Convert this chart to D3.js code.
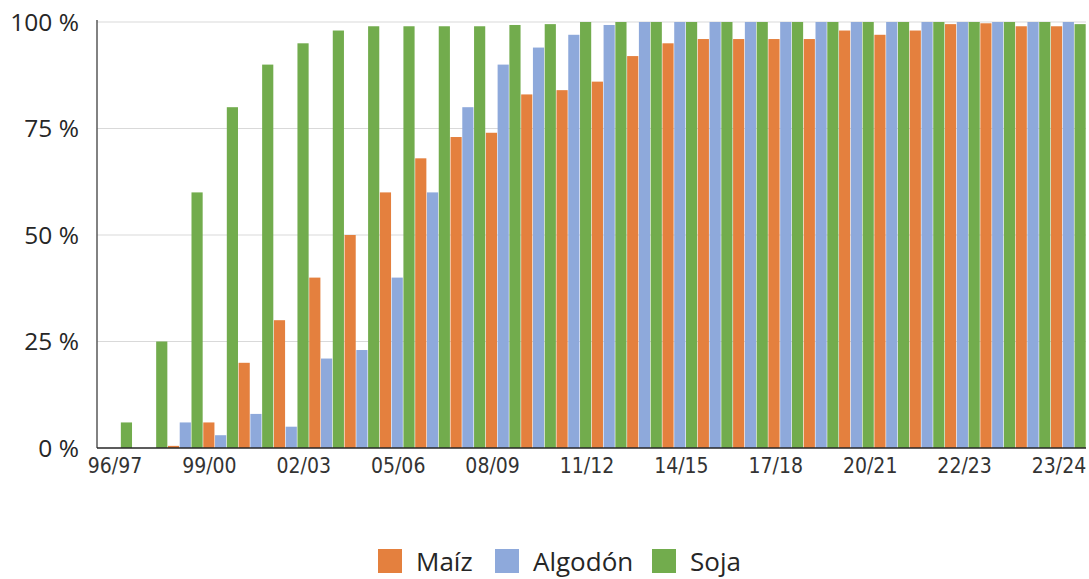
<!DOCTYPE html>
<html>
<head>
<meta charset="utf-8">
<script src="https://cdnjs.cloudflare.com/ajax/libs/d3/7.8.5/d3.min.js"></script>
<style>
  body { margin: 0; background: #fff; }
  svg { display: block; }
  .ylab { font-family: 'Open Sans', sans-serif; font-size: 24.5px; fill: #262626; }
  .xlab { font-family: 'Liberation Sans Narrow', 'DejaVu Sans Condensed', sans-serif; font-size: 21px; fill: #333; }
  .leg { font-family: 'Open Sans', sans-serif; font-size: 26px; fill: #262626; }
</style>
</head>
<body>
<svg id="chart" width="1089" height="579"></svg>
<script>

// seasons 96/97 .. 23/24
const seasons = ["96/97","97/98","98/99","99/00","00/01","01/02","02/03","03/04","04/05","05/06",
                 "06/07","07/08","08/09","09/10","10/11","11/12","12/13","13/14","14/15","15/16",
                 "16/17","17/18","18/19","19/20","20/21","21/22","22/23","23/24"];

const maiz    = [0, 0, 0.5, 6, 20, 30, 40, 50, 60, 68, 73, 74, 83, 84, 86, 92, 95, 96, 96, 96,
                 96, 98, 97, 98, 99.5, 99.7, 99, 99];
const algodon = [0, 0, 6, 3, 8, 5, 21, 23, 40, 60, 80, 90, 94, 97, 99.3, 100, 100, 100, 100, 100,
                 100, 100, 100, 100, 100, 100, 100, 100];
const soja    = [6, 25, 60, 80, 90, 95, 98, 99, 99, 99, 99, 99.3, 99.5, 100, 100, 100, 100, 100, 100, 100,
                 100, 100, 100, 100, 100, 100, 100, 99.5];

const seriesNames  = ["Maíz", "Algodón", "Soja"];
const seriesColors = ["#E4803E", "#8EA9DB", "#72AC4D"];

const xTickLabels = ["96/97","99/00","02/03","05/06","08/09","11/12","14/15","17/18","20/21","22/23","23/24"];
const yTicks = [0, 25, 50, 75, 100];

const svg = d3.select("#chart");
const mLeft = 97, mRight = 1086, mTop = 22, mBottom = 448;

const x = d3.scaleBand().domain(seasons).range([mLeft, mRight]).padding(0);
const xs = d3.scaleBand().domain(seriesNames).range([0, x.bandwidth()]).padding(0);
const y = d3.scaleLinear().domain([0, 100]).range([mBottom, mTop]);
const xl = d3.scalePoint().domain(xTickLabels).range([115, 1059]);

// gridlines
svg.append("g").selectAll("line").data(yTicks.filter(d => d > 0)).join("line")
  .attr("x1", mLeft).attr("x2", mRight)
  .attr("y1", d => y(d)).attr("y2", d => y(d))
  .attr("stroke", "#d9d9d9").attr("stroke-width", 1);

const table = seasons.map((s, i) => ({ season: s, vals: [maiz[i], algodon[i], soja[i]] }));

const groups = svg.append("g").selectAll("g").data(table).join("g")
  .attr("transform", d => `translate(${x(d.season)},0)`);

groups.selectAll("rect")
  .data(d => d.vals.map((v, k) => ({ name: seriesNames[k], v: v, c: seriesColors[k] })))
  .join("rect")
  .attr("x", d => xs(d.name) + 0.3)
  .attr("width", xs.bandwidth() - 0.6)
  .attr("y", d => y(d.v))
  .attr("height", d => y(0) - y(d.v))
  .attr("fill", d => d.c);

// axes lines
svg.append("line").attr("x1", mLeft).attr("x2", mLeft).attr("y1", mTop - 2).attr("y2", mBottom)
  .attr("stroke", "#595959").attr("stroke-width", 1.5);
svg.append("line").attr("x1", mLeft).attr("x2", mRight).attr("y1", mBottom).attr("y2", mBottom)
  .attr("stroke", "#262626").attr("stroke-width", 1.5);

// y labels
svg.append("g").selectAll("text").data(yTicks).join("text")
  .attr("class", "ylab")
  .attr("x", 79).attr("y", d => y(d) + 8.5)
  .attr("text-anchor", "end")
  .text(d => d + " %");

// x labels
svg.append("g").selectAll("text").data(xTickLabels).join("text")
  .attr("class", "xlab")
  .attr("x", d => xl(d)).attr("y", 473)
  .attr("text-anchor", "middle")
  .text(d => d);

// legend
const legX = [378, 495, 652];
const leg = svg.append("g").selectAll("g").data(seriesNames).join("g")
  .attr("transform", (d, i) => `translate(${legX[i]},549)`);
leg.append("rect").attr("width", 24).attr("height", 24).attr("fill", (d, i) => seriesColors[i]);
leg.append("text").attr("class", "leg").attr("x", 38).attr("y", 22).text(d => d);

</script>
</body>
</html>
